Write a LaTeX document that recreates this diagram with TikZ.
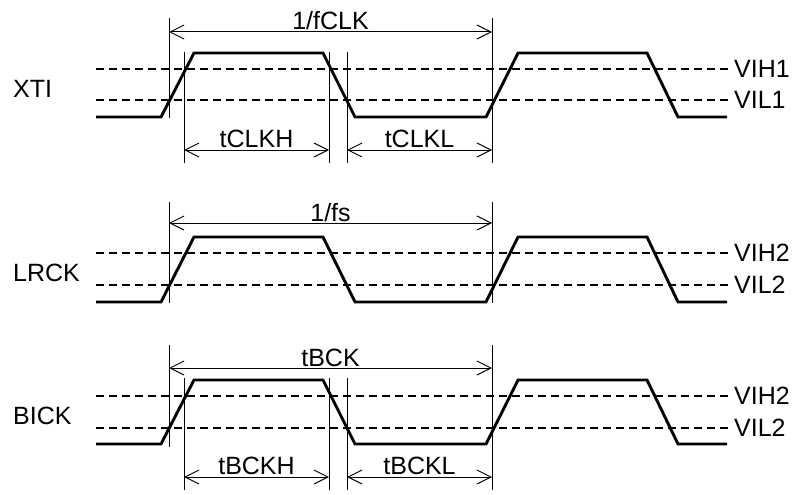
\documentclass[tikz,border=0pt]{standalone}
\usepackage{fontspec}
\setmainfont{Liberation Sans}
\usetikzlibrary{arrows.meta}
\newcommand{\sigfont}{\fontsize{25}{29}\selectfont}

\begin{document}
\begin{tikzpicture}[x=1pt, y=-1pt,
    every node/.style={font=\sigfont, inner sep=2pt, text depth=0pt},
    wave/.style={line width=2.9pt, line join=miter},
    thresh/.style={line width=1.5pt, dash pattern=on 8pt off 5pt},
    extline/.style={line width=1pt},
    dim/.style={line width=1pt, {Straight Barb[length=14pt,width=14pt]}-{Straight Barb[length=14pt,width=14pt]}}]

  \useasboundingbox (0,0) rectangle (798,495);

  % signals, thresholds, levels
  \foreach \sig/\hi/\lo/\vih/\vil/\hname/\lname [count=\i] in
      {XTI/53/117/69/100/VIH1/VIL1,
       LRCK/237/302/253/285/VIH2/VIL2,
       BICK/380/444/396/428/VIH2/VIL2} {
    \node[anchor=west] (sig\i) at (11,{(\vih+\vil)/2+4}) {\sig};
    \node[anchor=west, inner sep=5pt] (vih\i) at (729,\vih) {\hname};
    \node[anchor=west, inner sep=5pt] (vil\i) at (729,\vil) {\lname};
    \draw[thresh] (96,\vih) -- (vih\i.west);
    \draw[thresh] (96,\vil) -- (vil\i.west);
    \draw[wave] (96,\lo) -- (161,\lo) -- (194,\hi) -- (323,\hi) -- (355,\lo)
      -- (486,\lo) -- (518,\hi) -- (647,\hi) -- (678,\lo) -- (727,\lo);
  }

  % XTI timing
  \draw[extline] (169,18) -- (169,118);
  \draw[extline] (492,18) -- (492,163);
  \draw[extline] (184,52) -- (184,163);
  \draw[extline] (329,52) -- (329,163);
  \draw[extline] (347,52) -- (347,163);
  \coordinate (xa) at (169,32);   \coordinate (xb) at (492,32);
  \coordinate (xh0) at (184,150); \coordinate (xh1) at (329,150);
  \coordinate (xl0) at (347,150); \coordinate (xl1) at (492,150);
  \draw[dim] (xa) -- node[above, inner sep=1.5pt] (fclk) {1/fCLK} (xb);
  \draw[dim] (xh0) -- node[above] (clkh) {tCLKH} (xh1);
  \draw[dim] (xl0) -- node[above] (clkl) {tCLKL} (xl1);

  % LRCK timing
  \draw[extline] (169,202) -- (169,303);
  \draw[extline] (492,202) -- (492,303);
  \coordinate (la) at (169,223);  \coordinate (lb) at (492,223);
  \draw[dim] (la) -- node[above, inner sep=1pt] (fs) {1/fs} (lb);

  % BICK timing
  \draw[extline] (169,345) -- (169,447);
  \draw[extline] (492,345) -- (492,490);
  \draw[extline] (184,378) -- (184,490);
  \draw[extline] (329,378) -- (329,490);
  \draw[extline] (347,378) -- (347,490);
  \coordinate (ba) at (169,368);  \coordinate (bb) at (492,368);
  \coordinate (bh0) at (184,477); \coordinate (bh1) at (329,477);
  \coordinate (bl0) at (347,477); \coordinate (bl1) at (492,477);
  \draw[dim] (ba) -- node[above, inner sep=1pt] (bck) {tBCK} (bb);
  \draw[dim] (bh0) -- node[above] (bckh) {tBCKH} (bh1);
  \draw[dim] (bl0) -- node[above] (bckl) {tBCKL} (bl1);

\end{tikzpicture}
\end{document}
